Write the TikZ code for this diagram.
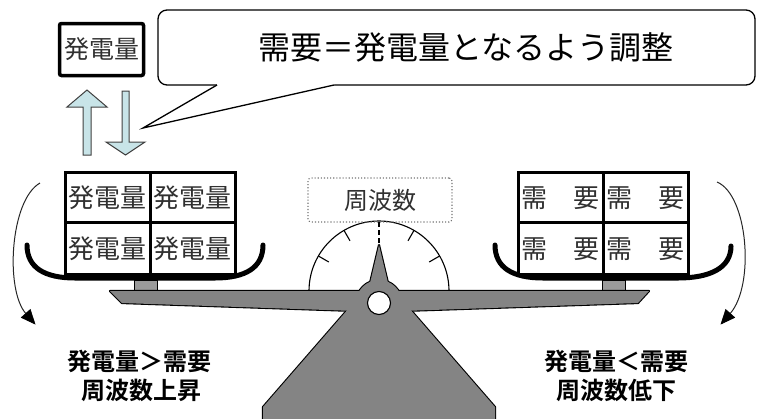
\documentclass[tikz,border=0pt]{standalone}
\usepackage{fontspec}
\setmainfont{Noto Sans CJK JP}[BoldFont={Noto Sans CJK JP Bold}]
\usetikzlibrary{arrows.meta}
\definecolor{scalegray}{HTML}{848484}
\definecolor{stemgray}{HTML}{9A9A9A}
\definecolor{arrowblue}{HTML}{C8E4E8}
\definecolor{txtgray}{HTML}{303030}
\begin{document}
\begin{tikzpicture}[x=1pt,y=-1pt,
  gridline/.style={line width=3pt},
  celltext/.style={inner sep=0pt, font=\fontsize{26}{30}\selectfont, text=txtgray},
  panline/.style={line width=5pt, line cap=round},
  swing/.style={line width=1pt, draw=black!85},
  swinghead/.style={fill=black, draw=black, line width=0.6pt, line join=miter},
  bottomtext/.style={font=\bfseries\fontsize{24}{28}\selectfont, inner sep=0pt},
  blockarrow/.style={fill=arrowblue, draw=black!75, line width=1pt, line join=miter},
  outlinepass/.style={draw=black, line width=2.2pt, line join=round},
  fillpass/.style={fill=scalegray},
]
\useasboundingbox (0,0) rectangle (765,418);

% ---------- top left: generation box and block arrows ----------
\node[draw, line width=3.5pt, rounded corners=2pt, minimum width=84pt, minimum height=52pt,
      inner sep=0pt, font=\fontsize{25}{30}\selectfont, text=txtgray] (genbox) at (101.5,49.5) {発電量};
\draw[blockarrow] (87,90) -- (107,107) -- (91,107) -- (91,155) -- (83,155) -- (83,107) -- (67,107) -- cycle;
\draw[blockarrow] (125.5,155) -- (145,142) -- (129,142) -- (129,91) -- (122,91) -- (122,142) -- (106,142) -- cycle;

% ---------- callout ----------
\node[draw, line width=1.3pt, rounded corners=9pt, minimum width=597pt, minimum height=75pt, fill=white] (callout) at (456.5,47.5) {};
\node[font=\fontsize{32}{38}\selectfont, inner sep=0pt] (calltext) at (466,47) {需要＝発電量となるよう調整};
\coordinate (tailtip) at (143,128);
\fill[white] (tailtip) -- (217,85) -- (217,83) -- (334,83) -- (334,85) -- cycle;
\draw[line width=1.3pt, line join=miter] (217,85) -- (tailtip) -- (334,85);

% ---------- dial ----------
\begin{scope}
  \clip (300,200) rectangle (460,291);
  \draw[line width=1.1pt] (379,291) circle[radius=70];
\end{scope}
\draw[line width=1.1pt] (439.6,256) -- (429.2,262);
\draw[line width=1.1pt] (414,230.4) -- (408,240.8);
\draw[line width=1.1pt] (344,230.4) -- (350,240.8);
\draw[line width=1.1pt] (318.4,256) -- (328.8,262);
\draw[line width=1.1pt, dash pattern=on 5pt off 3pt] (379,222) -- (379,246);
\node[draw=black!55, dotted, line width=1.1pt, rounded corners=3pt, minimum width=144pt, minimum height=44pt,
      inner sep=0pt, font=\fontsize{24}{28}\selectfont, text=txtgray] (freq) at (380,200) {周波数};

% ---------- pans ----------
\draw[panline] (27,245) .. controls (27,268) and (45,278) .. (75,278) -- (215,278) .. controls (245,278) and (263,268) .. (263,245);
\draw[panline] (495,245) .. controls (495,268) and (513,278) .. (543,278) -- (678,278) .. controls (710,278) and (731,268) .. (731,246);

% left grid
\fill[white] (65,172) rectangle (235,274);
\node[celltext] (g1) at (107.5,198) {発電量};
\node[celltext] (g2) at (192.5,198) {発電量};
\node[celltext] (g3) at (107.5,249) {発電量};
\node[celltext] (g4) at (192.5,249) {発電量};
\draw[gridline] (65,172) rectangle (235,274);
\draw[gridline] (150,172) -- (150,274);
\draw[gridline] (65,222) -- (235,222);

% right grid
\fill[white] (518,172) rectangle (688,274);
\node[celltext] (d1) at (560.5,198) {需　要};
\node[celltext] (d2) at (645.5,198) {需　要};
\node[celltext] (d3) at (560.5,249) {需　要};
\node[celltext] (d4) at (645.5,249) {需　要};
\draw[gridline] (518,172) rectangle (688,274);
\draw[gridline] (603,172) -- (603,274);
\draw[gridline] (518,222) -- (688,222);

% stems
\draw[fill=stemgray, line width=1pt] (134,280.5) rectangle (157,291);
\draw[fill=stemgray, line width=1pt] (602,280.5) rectangle (625,291);

% ---------- scale body (outline pass then fill pass) ----------
\path[outlinepass] (370,283) -- (379,245) -- (388,283) -- cycle;
\path[outlinepass] (110,291) -- (649,291) -- (638,303) -- (402,311) -- (356,311) -- (122,303) -- cycle;
\path[outlinepass] (356,300) -- (263,407) -- (263,422) -- (495,422) -- (495,407) -- (402,300) -- cycle;
\path[outlinepass] (379,303) circle[radius=23];
\path[fillpass] (370,283) -- (379,245) -- (388,283) -- cycle;
\path[fillpass] (110,291) -- (649,291) -- (638,303) -- (402,311) -- (356,311) -- (122,303) -- cycle;
\path[fillpass] (356,300) -- (263,407) -- (263,422) -- (495,422) -- (495,407) -- (402,300) -- cycle;
\path[fillpass] (379,303) circle[radius=23];
\node[circle, draw, fill=white, line width=1.1pt, minimum size=23pt, inner sep=0pt] (pivot) at (379,303) {};

% ---------- swing arrows ----------
\coordinate (lstart) at (40,183);
\coordinate (lbase) at (25.8,313.5);
\coordinate (ltip) at (35,324);
\coordinate (rstart) at (717,182);
\coordinate (rbase) at (730.2,313.5);
\coordinate (rtip) at (721,324);
\draw[swing] (lstart) .. controls (10,200) and (5,290) .. (lbase);
\draw[swinghead] (ltip) -- (30.3,309.5) -- (21.3,317.5) -- cycle;
\draw[swing] (rstart) .. controls (748,195) and (755,285) .. (rbase);
\draw[swinghead] (rtip) -- (734.7,317.5) -- (725.7,309.5) -- cycle;

% ---------- bottom texts ----------
\node[bottomtext] (lt1) at (139,361) {発電量＞需要};
\node[bottomtext] (lt2) at (141,390) {周波数上昇};
\node[bottomtext] (rt1) at (616,361) {発電量＜需要};
\node[bottomtext] (rt2) at (616,390) {周波数低下};
\end{tikzpicture}
\end{document}
